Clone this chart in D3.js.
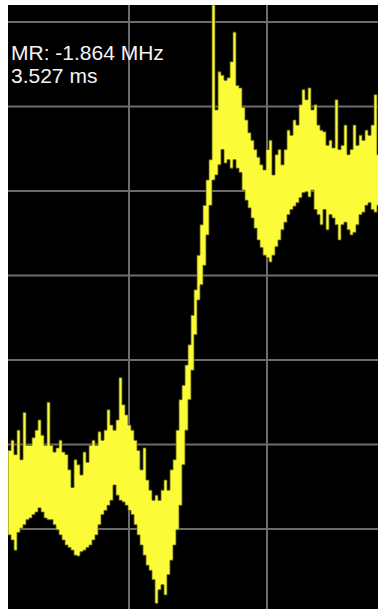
<!DOCTYPE html>
<html><head><meta charset="utf-8">
<script src="https://cdn.jsdelivr.net/npm/d3@7"></script>
<style>html,body{margin:0;padding:0;background:#fff;}svg{display:block;}</style>
</head><body>
<script>
// Marker readout
const markerLabel = ["MR: -1.864 MHz", "3.527 ms"];
// Grid levels (dB) and grid columns (in sample units)
const gridLevels = [0, -10, -20, -30, -40, -50, -60];
const gridCols = [40.3, 86.3];
// Upper envelope (dB) of each display column
const hi = [-50.7,-49.5,-51.2,-48.3,-51.8,-46.2,-50.1,-50.1,-49.2,-48.3,-47.1,-48.9,-50.1,-45.0,-50.1,-50.9,-50.4,-49.5,-50.9,-51.2,
-53.0,-55.1,-51.8,-52.4,-53.6,-50.9,-52.1,-50.1,-49.5,-50.1,-48.5,-49.5,-48.3,-45.9,-47.7,-48.3,-47.1,-42.1,-45.3,-46.5,
-47.7,-48.3,-49.5,-50.7,-53.0,-50.4,-54.2,-55.4,-56.6,-56.0,-56.6,-55.4,-54.2,-55.4,-53.0,-51.8,-48.3,-44.7,-43.0,-40.6,
-38.2,-34.7,-31.7,-27.6,-24.0,-21.7,-18.7,-16.3,2.0,-10.4,-5.9,-6.3,-6.9,-6.6,-4.7,-1.2,-7.5,-7.8,-10.1,-11.6,
-13.1,-14.0,-15.1,-16.0,-16.9,-17.5,-15.1,-14.0,-18.1,-15.7,-15.1,-16.9,-15.1,-12.8,-13.4,-11.6,-12.2,-9.8,-8.0,-9.2,
-7.8,-10.4,-9.8,-12.2,-12.8,-13.0,-14.6,-14.0,-14.9,-9.2,-15.1,-14.6,-12.2,-15.7,-15.1,-12.2,-14.6,-13.4,-14.0,-12.8,
-13.4,-12.2,-8.6,-15.7];
// Lower envelope (dB) of each display column
const lo = [-60.7,-61.3,-62.5,-60.4,-59.9,-59.5,-58.9,-58.7,-58.3,-58.0,-57.5,-58.0,-58.7,-58.9,-58.9,-59.5,-60.1,-60.7,-61.3,-61.9,
-62.2,-62.5,-63.1,-63.2,-62.7,-62.5,-62.2,-61.9,-61.3,-60.7,-59.5,-58.3,-57.8,-57.2,-56.6,-54.8,-56.0,-56.6,-56.8,-57.2,
-57.8,-58.3,-59.5,-60.7,-61.9,-63.1,-64.3,-64.9,-66.0,-68.8,-67.2,-66.6,-67.8,-65.4,-63.7,-61.9,-60.1,-57.2,-52.4,-48.3,
-44.7,-41.2,-37.0,-32.9,-31.1,-28.8,-25.2,-21.7,-18.7,-18.1,-16.9,-15.1,-16.7,-16.3,-17.3,-16.3,-17.3,-17.8,-19.9,-21.1,
-22.0,-23.2,-24.4,-25.8,-26.7,-27.6,-27.9,-28.4,-27.6,-26.6,-25.8,-24.6,-23.7,-22.8,-22.2,-21.8,-21.4,-20.8,-20.2,-20.1,
-20.7,-19.9,-22.2,-22.8,-24.0,-22.2,-24.6,-22.8,-23.2,-24.0,-25.8,-24.0,-23.7,-24.6,-25.2,-24.9,-24.0,-22.8,-22.5,-21.7,
-21.4,-22.2,-22.5,-21.7];

const W = 378, H = 609;
const plot = {x0: 8, y0: 5, x1: 378, y1: 609};
const svg = d3.select("body").append("svg").attr("width", W).attr("height", H);
svg.append("rect").attr("width", W).attr("height", H).attr("fill", "#fff");
svg.append("rect").attr("x", plot.x0).attr("y", plot.y0)
  .attr("width", plot.x1 - plot.x0).attr("height", plot.y1 - plot.y0).attr("fill", "#000");

const n = hi.length;
const x = d3.scaleLinear().domain([0, n]).range([plot.x0, plot.x0 + 3 * n]);
const y = d3.scaleLinear().domain([0, -60]).range([22, 529]);

const g = svg.append("g");
g.selectAll("line.h").data(gridLevels).join("line").attr("class", "h")
  .attr("x1", plot.x0).attr("x2", plot.x1)
  .attr("y1", d => y(d)).attr("y2", d => y(d))
  .attr("stroke", "#6c6c6c").attr("stroke-width", 2);
g.selectAll("line.v").data(gridCols).join("line").attr("class", "v")
  .attr("y1", plot.y0).attr("y2", plot.y1)
  .attr("x1", d => Math.round(x(d))).attr("x2", d => Math.round(x(d)))
  .attr("stroke", "#6c6c6c").attr("stroke-width", 2);

const clip = svg.append("clipPath").attr("id", "c").append("rect")
  .attr("x", plot.x0).attr("y", plot.y0).attr("width", plot.x1 - plot.x0).attr("height", plot.y1 - plot.y0);

const pts = hi.map((h, i) => ({i, h, l: lo[i]}));
pts.push({i: n, h: hi[n - 1], l: lo[n - 1]});
const area = d3.area().curve(d3.curveStepAfter)
  .x(d => x(d.i)).y0(d => y(d.l)).y1(d => y(d.h));
svg.append("path").datum(pts).attr("clip-path", "url(#c)")
  .attr("d", area).attr("fill", "#fbfb37")
  .attr("stroke", "#5a5a14").attr("stroke-width", 0.8);

const t = svg.append("g").attr("font-family", "'Liberation Sans', Arial, sans-serif")
  .attr("font-size", 21).attr("fill", "#f4f4f4");
t.selectAll("text").data(markerLabel).join("text")
  .attr("x", 11).attr("y", (d, i) => 60 + i * 23).text(d => d);
</script>
</body></html>
